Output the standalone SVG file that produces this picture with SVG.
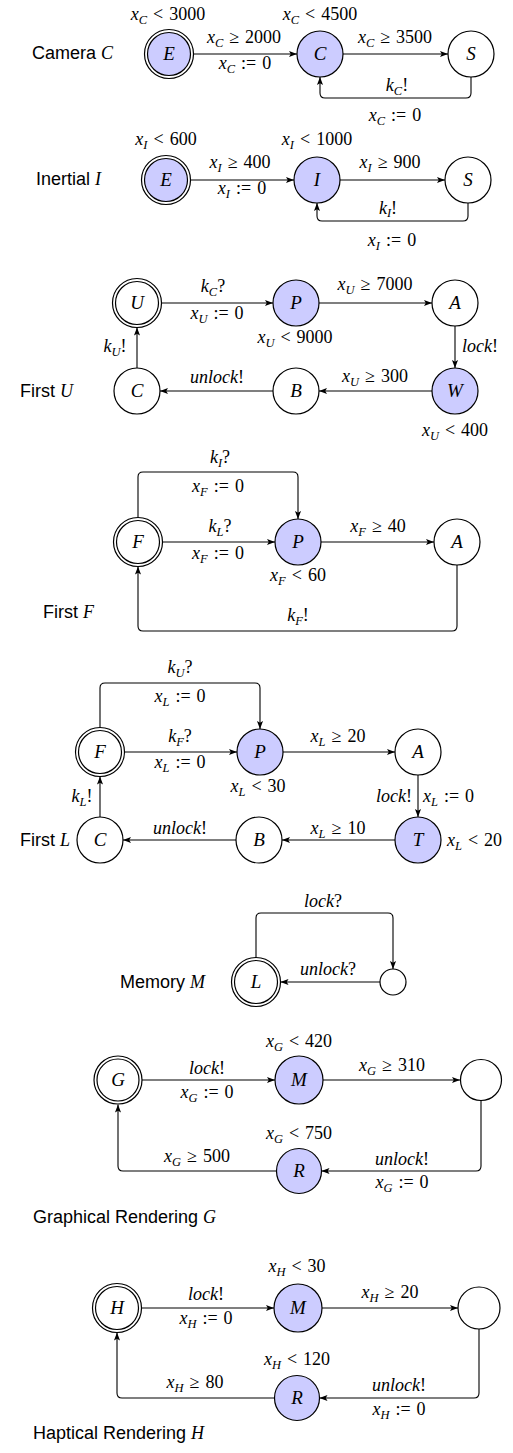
<svg xmlns="http://www.w3.org/2000/svg" width="513" height="1453" viewBox="0 0 513 1453">
<defs>
<marker id="a" viewBox="0 0 10 10" refX="10" refY="5" markerWidth="8" markerHeight="8" markerUnits="userSpaceOnUse" orient="auto">
<path d="M0,1.2 L10,5 L0,8.8 L2.2,5 z" fill="#000"/>
</marker>
<style>
.m{font-family:"Liberation Serif",serif;font-size:18px;text-anchor:middle;fill:#000}
.ml{font-family:"Liberation Serif",serif;font-size:18px;text-anchor:start;fill:#000}
.me{font-family:"Liberation Serif",serif;font-size:18px;text-anchor:end;fill:#000}
.i{font-style:italic}
.s{font-size:12.5px;font-style:italic}
.t{font-family:"Liberation Sans",Arial,sans-serif;font-size:18px;fill:#000}
.n{font-family:"Liberation Serif",serif;font-size:19px;font-style:italic;text-anchor:middle;fill:#000}
.e{fill:none;stroke:#000;stroke-width:1.1;marker-end:url(#a)}
.f{fill:#ccccff;stroke:#000;stroke-width:1.2}
.w{fill:#fff;stroke:#000;stroke-width:1.2}
</style>
</defs>
<rect width="513" height="1453" fill="#fff"/>

<g id="connectors">
<path class="e" d="M193.5,54 H297"/>
<path class="e" d="M343,54 H448"/>
<path class="e" d="M471,77 V93 Q471,98 466,98 H325 Q320,98 320,93 V77"/>
<path class="e" d="M190.5,180 H294"/>
<path class="e" d="M340,180 H445"/>
<path class="e" d="M468,203 V216 Q468,221 463,221 H322 Q317,221 317,216 V203"/>
<path class="e" d="M161.5,303 H273"/>
<path class="e" d="M319,303 H432"/>
<path class="e" d="M455,326 V368"/>
<path class="e" d="M432,391 H319"/>
<path class="e" d="M273,391 H160"/>
<path class="e" d="M137,368 V327.5"/>
<path class="e" d="M138,517.5 V477 Q138,472 143,472 H293 Q298,472 298,477 V519"/>
<path class="e" d="M162.5,542 H275"/>
<path class="e" d="M321,542 H434"/>
<path class="e" d="M457,565 V626 Q457,631 452,631 H143 Q138,631 138,626 V566.5"/>
<path class="e" d="M100,727.5 V688 Q100,683 105,683 H255 Q260,683 260,688 V729"/>
<path class="e" d="M124.5,752 H237"/>
<path class="e" d="M283,752 H395"/>
<path class="e" d="M418,775 V817"/>
<path class="e" d="M395,840 H282"/>
<path class="e" d="M236,840 H123"/>
<path class="e" d="M100,817 V776.5"/>
<path class="e" d="M256,957.5 V918 Q256,913 261,913 H388 Q393,913 393,918 V969"/>
<path class="e" d="M380,982 H280.5"/>
<path class="e" d="M142,1080 H275"/>
<path class="e" d="M323,1080 H460"/>
<path class="e" d="M481,1101 V1166 Q481,1171 476,1171 H321.5"/>
<path class="e" d="M276.5,1171 H123 Q118,1171 118,1166 V1104.5"/>
<path class="e" d="M141.5,1308 H274"/>
<path class="e" d="M322,1308 H458"/>
<path class="e" d="M479,1329 V1393 Q479,1398 474,1398 H319.5"/>
<path class="e" d="M274.5,1398 H122 Q117,1398 117,1393 V1332.5"/>
</g>

<!-- Camera C -->
<text class="t" x="32" y="59">Camera <tspan class="i" font-family="Liberation Serif">C</tspan></text>
<g id="cam-E"><circle cx="169" cy="54" r="24.5" class="w"/><circle cx="169" cy="54" r="21.5" class="f"/><text class="n" x="169" y="60">E</text></g>
<g id="cam-C"><circle cx="320" cy="54" r="23" class="f"/><text class="n" x="320" y="60">C</text></g>
<g id="cam-S"><circle cx="471" cy="54" r="23" class="w"/><text class="n" x="471" y="60">S</text></g>
<g id="cam-labels">
<text class="m" x="168" y="20"><tspan class="i">x</tspan><tspan class="s" dy="4">C</tspan><tspan dy="-4" dx="6">&lt;</tspan><tspan dx="6">3000</tspan></text>
<text class="m" x="320" y="20"><tspan class="i">x</tspan><tspan class="s" dy="4">C</tspan><tspan dy="-4" dx="6">&lt;</tspan><tspan dx="6">4500</tspan></text>
<text class="m" x="244" y="43"><tspan class="i">x</tspan><tspan class="s" dy="4">C</tspan><tspan dy="-4" dx="6">≥</tspan><tspan dx="6">2000</tspan></text>
<text class="m" x="245" y="69"><tspan class="i">x</tspan><tspan class="s" dy="4">C</tspan><tspan dy="-4" dx="6">:=</tspan><tspan dx="6">0</tspan></text>
<text class="m" x="395" y="43"><tspan class="i">x</tspan><tspan class="s" dy="4">C</tspan><tspan dy="-4" dx="6">≥</tspan><tspan dx="6">3500</tspan></text>
<text class="m" x="397" y="91"><tspan class="i">k</tspan><tspan class="s" dy="4">C</tspan><tspan dy="-4">!</tspan></text>
<text class="m" x="395" y="121"><tspan class="i">x</tspan><tspan class="s" dy="4">C</tspan><tspan dy="-4" dx="6">:=</tspan><tspan dx="6">0</tspan></text>
</g>

<!-- Inertial I -->
<text class="t" x="36" y="185">Inertial <tspan class="i" font-family="Liberation Serif">I</tspan></text>
<g id="ine-E"><circle cx="166" cy="180" r="24.5" class="w"/><circle cx="166" cy="180" r="21.5" class="f"/><text class="n" x="166" y="186">E</text></g>
<g id="ine-I"><circle cx="317" cy="180" r="23" class="f"/><text class="n" x="317" y="186">I</text></g>
<g id="ine-S"><circle cx="468" cy="180" r="23" class="w"/><text class="n" x="468" y="186">S</text></g>
<g id="ine-labels">
<text class="m" x="166" y="145"><tspan class="i">x</tspan><tspan class="s" dy="4">I</tspan><tspan dy="-4" dx="6">&lt;</tspan><tspan dx="6">600</tspan></text>
<text class="m" x="317" y="145"><tspan class="i">x</tspan><tspan class="s" dy="4">I</tspan><tspan dy="-4" dx="6">&lt;</tspan><tspan dx="6">1000</tspan></text>
<text class="m" x="240" y="168"><tspan class="i">x</tspan><tspan class="s" dy="4">I</tspan><tspan dy="-4" dx="6">≥</tspan><tspan dx="6">400</tspan></text>
<text class="m" x="242" y="194"><tspan class="i">x</tspan><tspan class="s" dy="4">I</tspan><tspan dy="-4" dx="6">:=</tspan><tspan dx="6">0</tspan></text>
<text class="m" x="390" y="168"><tspan class="i">x</tspan><tspan class="s" dy="4">I</tspan><tspan dy="-4" dx="6">≥</tspan><tspan dx="6">900</tspan></text>
<text class="m" x="388" y="214"><tspan class="i">k</tspan><tspan class="s" dy="3">I</tspan><tspan dy="-3">!</tspan></text>
<text class="m" x="392" y="246"><tspan class="i">x</tspan><tspan class="s" dy="4">I</tspan><tspan dy="-4" dx="6">:=</tspan><tspan dx="6">0</tspan></text>
</g>

<!-- First U -->
<text class="t" x="20" y="397">First <tspan class="i" font-family="Liberation Serif">U</tspan></text>
<g id="fu-U"><circle cx="137" cy="303" r="24.5" class="w"/><circle cx="137" cy="303" r="21.5" class="w"/><text class="n" x="137" y="309">U</text></g>
<g id="fu-P"><circle cx="296" cy="303" r="23" class="f"/><text class="n" x="296" y="309">P</text></g>
<g id="fu-A"><circle cx="455" cy="303" r="23" class="w"/><text class="n" x="455" y="309">A</text></g>
<g id="fu-W"><circle cx="455" cy="391" r="23" class="f"/><text class="n" x="455" y="397">W</text></g>
<g id="fu-B"><circle cx="296" cy="391" r="23" class="w"/><text class="n" x="296" y="397">B</text></g>
<g id="fu-C"><circle cx="137" cy="391" r="23" class="w"/><text class="n" x="137" y="397">C</text></g>
<g id="fu-labels">
<text class="m" x="213" y="292"><tspan class="i">k</tspan><tspan class="s" dy="4">C</tspan><tspan dy="-4">?</tspan></text>
<text class="m" x="217" y="319"><tspan class="i">x</tspan><tspan class="s" dy="4">U</tspan><tspan dy="-4" dx="6">:=</tspan><tspan dx="6">0</tspan></text>
<text class="m" x="295" y="343"><tspan class="i">x</tspan><tspan class="s" dy="4">U</tspan><tspan dy="-4" dx="6">&lt;</tspan><tspan dx="6">9000</tspan></text>
<text class="m" x="375" y="290"><tspan class="i">x</tspan><tspan class="s" dy="4">U</tspan><tspan dy="-4" dx="6">≥</tspan><tspan dx="6">7000</tspan></text>
<text class="ml" x="462" y="352"><tspan class="i">lock</tspan>!</text>
<text class="m" x="375" y="382"><tspan class="i">x</tspan><tspan class="s" dy="4">U</tspan><tspan dy="-4" dx="6">≥</tspan><tspan dx="6">300</tspan></text>
<text class="m" x="217" y="383"><tspan class="i">unlock</tspan>!</text>
<text class="m" x="115" y="352"><tspan class="i">k</tspan><tspan class="s" dy="4">U</tspan><tspan dy="-4">!</tspan></text>
<text class="m" x="455" y="436"><tspan class="i">x</tspan><tspan class="s" dy="4">U</tspan><tspan dy="-4" dx="6">&lt;</tspan><tspan dx="6">400</tspan></text>
</g>

<!-- First F -->
<text class="t" x="43" y="618">First <tspan class="i" font-family="Liberation Serif">F</tspan></text>
<g id="ff-F"><circle cx="138" cy="542" r="24.5" class="w"/><circle cx="138" cy="542" r="21.5" class="w"/><text class="n" x="138" y="548">F</text></g>
<g id="ff-P"><circle cx="298" cy="542" r="23" class="f"/><text class="n" x="298" y="548">P</text></g>
<g id="ff-A"><circle cx="457" cy="542" r="23" class="w"/><text class="n" x="457" y="548">A</text></g>
<g id="ff-labels">
<text class="m" x="220" y="463"><tspan class="i">k</tspan><tspan class="s" dy="4">I</tspan><tspan dy="-4">?</tspan></text>
<text class="m" x="218" y="492"><tspan class="i">x</tspan><tspan class="s" dy="4">F</tspan><tspan dy="-4" dx="6">:=</tspan><tspan dx="6">0</tspan></text>
<text class="m" x="220" y="532"><tspan class="i">k</tspan><tspan class="s" dy="4">L</tspan><tspan dy="-4">?</tspan></text>
<text class="m" x="218" y="559"><tspan class="i">x</tspan><tspan class="s" dy="4">F</tspan><tspan dy="-4" dx="6">:=</tspan><tspan dx="6">0</tspan></text>
<text class="m" x="298" y="581"><tspan class="i">x</tspan><tspan class="s" dy="4">F</tspan><tspan dy="-4" dx="6">&lt;</tspan><tspan dx="6">60</tspan></text>
<text class="m" x="378" y="532"><tspan class="i">x</tspan><tspan class="s" dy="4">F</tspan><tspan dy="-4" dx="6">≥</tspan><tspan dx="6">40</tspan></text>
<text class="m" x="298" y="621"><tspan class="i">k</tspan><tspan class="s" dy="4">F</tspan><tspan dy="-4">!</tspan></text>
</g>

<!-- First L -->
<text class="t" x="20" y="846">First <tspan class="i" font-family="Liberation Serif">L</tspan></text>
<g id="fl-F"><circle cx="100" cy="752" r="24.5" class="w"/><circle cx="100" cy="752" r="21.5" class="w"/><text class="n" x="100" y="758">F</text></g>
<g id="fl-P"><circle cx="260" cy="752" r="23" class="f"/><text class="n" x="260" y="758">P</text></g>
<g id="fl-A"><circle cx="418" cy="752" r="23" class="w"/><text class="n" x="418" y="758">A</text></g>
<g id="fl-T"><circle cx="418" cy="840" r="23" class="f"/><text class="n" x="418" y="846">T</text></g>
<g id="fl-B"><circle cx="259" cy="840" r="23" class="w"/><text class="n" x="259" y="846">B</text></g>
<g id="fl-C"><circle cx="100" cy="840" r="23" class="w"/><text class="n" x="100" y="846">C</text></g>
<g id="fl-labels">
<text class="m" x="180" y="673"><tspan class="i">k</tspan><tspan class="s" dy="4">U</tspan><tspan dy="-4">?</tspan></text>
<text class="m" x="180" y="702"><tspan class="i">x</tspan><tspan class="s" dy="4">L</tspan><tspan dy="-4" dx="6">:=</tspan><tspan dx="6">0</tspan></text>
<text class="m" x="180" y="742"><tspan class="i">k</tspan><tspan class="s" dy="4">F</tspan><tspan dy="-4">?</tspan></text>
<text class="m" x="180" y="768"><tspan class="i">x</tspan><tspan class="s" dy="4">L</tspan><tspan dy="-4" dx="6">:=</tspan><tspan dx="6">0</tspan></text>
<text class="m" x="338" y="742"><tspan class="i">x</tspan><tspan class="s" dy="4">L</tspan><tspan dy="-4" dx="6">≥</tspan><tspan dx="6">20</tspan></text>
<text class="m" x="258" y="792"><tspan class="i">x</tspan><tspan class="s" dy="4">L</tspan><tspan dy="-4" dx="6">&lt;</tspan><tspan dx="6">30</tspan></text>
<text class="me" x="412" y="802"><tspan class="i">lock</tspan>!</text>
<text class="ml" x="423" y="802"><tspan class="i">x</tspan><tspan class="s" dy="4">L</tspan><tspan dy="-4" dx="6">:=</tspan><tspan dx="6">0</tspan></text>
<text class="m" x="82" y="802"><tspan class="i">k</tspan><tspan class="s" dy="4">L</tspan><tspan dy="-4">!</tspan></text>
<text class="m" x="180" y="834"><tspan class="i">unlock</tspan>!</text>
<text class="m" x="338" y="834"><tspan class="i">x</tspan><tspan class="s" dy="4">L</tspan><tspan dy="-4" dx="6">≥</tspan><tspan dx="6">10</tspan></text>
<text class="ml" x="447" y="846"><tspan class="i">x</tspan><tspan class="s" dy="4">L</tspan><tspan dy="-4" dx="6">&lt;</tspan><tspan dx="6">20</tspan></text>
</g>

<!-- Memory M -->
<text class="t" x="120" y="988">Memory <tspan class="i" font-family="Liberation Serif">M</tspan></text>
<g id="mem-L"><circle cx="256" cy="982" r="24.5" class="w"/><circle cx="256" cy="982" r="21.5" class="w"/><text class="n" x="256" y="988">L</text></g>
<g id="mem-X"><circle cx="393" cy="982" r="13" class="w"/></g>
<g id="mem-labels">
<text class="m" x="323" y="907"><tspan class="i">lock</tspan>?</text>
<text class="m" x="328" y="975"><tspan class="i">unlock</tspan>?</text>
</g>

<!-- Graphical Rendering G -->
<text class="t" x="33" y="1223">Graphical Rendering <tspan class="i" font-family="Liberation Serif">G</tspan></text>
<g id="gr-G"><circle cx="118" cy="1080" r="24" class="w"/><circle cx="118" cy="1080" r="21" class="w"/><text class="n" x="118" y="1086">G</text></g>
<g id="gr-M"><circle cx="299" cy="1080" r="24" class="f"/><text class="n" x="299" y="1086">M</text></g>
<g id="gr-X"><circle cx="481" cy="1080" r="20.5" class="w"/></g>
<g id="gr-R"><circle cx="299" cy="1171" r="22.5" class="f"/><text class="n" x="299" y="1177">R</text></g>
<g id="gr-labels">
<text class="m" x="299" y="1047"><tspan class="i">x</tspan><tspan class="s" dy="4">G</tspan><tspan dy="-4" dx="6">&lt;</tspan><tspan dx="6">420</tspan></text>
<text class="m" x="207" y="1074"><tspan class="i">lock</tspan>!</text>
<text class="m" x="207" y="1098"><tspan class="i">x</tspan><tspan class="s" dy="4">G</tspan><tspan dy="-4" dx="6">:=</tspan><tspan dx="6">0</tspan></text>
<text class="m" x="392" y="1071"><tspan class="i">x</tspan><tspan class="s" dy="4">G</tspan><tspan dy="-4" dx="6">≥</tspan><tspan dx="6">310</tspan></text>
<text class="m" x="299" y="1139"><tspan class="i">x</tspan><tspan class="s" dy="4">G</tspan><tspan dy="-4" dx="6">&lt;</tspan><tspan dx="6">750</tspan></text>
<text class="m" x="197" y="1162"><tspan class="i">x</tspan><tspan class="s" dy="4">G</tspan><tspan dy="-4" dx="6">≥</tspan><tspan dx="6">500</tspan></text>
<text class="m" x="402" y="1165"><tspan class="i">unlock</tspan>!</text>
<text class="m" x="402" y="1188"><tspan class="i">x</tspan><tspan class="s" dy="4">G</tspan><tspan dy="-4" dx="6">:=</tspan><tspan dx="6">0</tspan></text>
</g>

<!-- Haptical Rendering H -->
<text class="t" x="33" y="1439">Haptical Rendering <tspan class="i" font-family="Liberation Serif">H</tspan></text>
<g id="hr-H"><circle cx="117" cy="1308" r="24.5" class="w"/><circle cx="117" cy="1308" r="21.5" class="w"/><text class="n" x="117" y="1314">H</text></g>
<g id="hr-M"><circle cx="298" cy="1308" r="24" class="f"/><text class="n" x="298" y="1314">M</text></g>
<g id="hr-X"><circle cx="479" cy="1308" r="21" class="w"/></g>
<g id="hr-R"><circle cx="297" cy="1398" r="22.5" class="f"/><text class="n" x="297" y="1404">R</text></g>
<g id="hr-labels">
<text class="m" x="297" y="1272"><tspan class="i">x</tspan><tspan class="s" dy="4">H</tspan><tspan dy="-4" dx="6">&lt;</tspan><tspan dx="6">30</tspan></text>
<text class="m" x="206" y="1300"><tspan class="i">lock</tspan>!</text>
<text class="m" x="206" y="1324"><tspan class="i">x</tspan><tspan class="s" dy="4">H</tspan><tspan dy="-4" dx="6">:=</tspan><tspan dx="6">0</tspan></text>
<text class="m" x="390" y="1298"><tspan class="i">x</tspan><tspan class="s" dy="4">H</tspan><tspan dy="-4" dx="6">≥</tspan><tspan dx="6">20</tspan></text>
<text class="m" x="297" y="1365"><tspan class="i">x</tspan><tspan class="s" dy="4">H</tspan><tspan dy="-4" dx="6">&lt;</tspan><tspan dx="6">120</tspan></text>
<text class="m" x="195" y="1388"><tspan class="i">x</tspan><tspan class="s" dy="4">H</tspan><tspan dy="-4" dx="6">≥</tspan><tspan dx="6">80</tspan></text>
<text class="m" x="399" y="1391"><tspan class="i">unlock</tspan>!</text>
<text class="m" x="399" y="1415"><tspan class="i">x</tspan><tspan class="s" dy="4">H</tspan><tspan dy="-4" dx="6">:=</tspan><tspan dx="6">0</tspan></text>
</g>
</svg>
